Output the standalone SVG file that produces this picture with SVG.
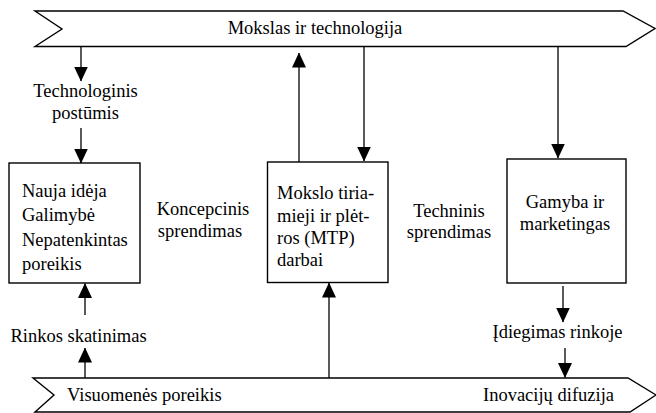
<svg xmlns="http://www.w3.org/2000/svg" width="656" height="413" viewBox="0 0 656 413" font-family="'Liberation Serif', 'DejaVu Serif', serif" font-size="18.5">
<style>
text{font-family:'Liberation Serif','DejaVu Serif',serif;font-size:18.5px;fill:#000}
.c{text-anchor:middle}
.shape{fill:#fff;stroke:#000;stroke-width:1.4}
.ln{fill:none;stroke:#000;stroke-width:1.3}
</style>
<defs>
<marker id="ah" markerUnits="userSpaceOnUse" markerWidth="15" markerHeight="15" viewBox="0 0 15 14" refX="14.5" refY="7" orient="auto">
<path d="M0,0 L15,7 L0,14 Z" fill="#000"/>
</marker>
</defs>
<rect width="656" height="413" fill="#fff"/>
<g id="banner-top">
<path class="shape" d="M35,11 L623,11 L655,28.5 L626,46.5 L35,46.5 L62,29 Z"/>
<text class="c" x="315" y="34">Mokslas ir technologija</text>
</g>
<g id="banner-bottom">
<path class="shape" d="M33,378 L628,378 L656,395 L630,412 L35,412 L54,395 Z"/>
<text x="67" y="401">Visuomenės poreikis</text>
<text x="483" y="401">Inovacijų difuzija</text>
</g>
<g id="box-idea">
<rect class="shape" x="9" y="163" width="131" height="120"/>
<text x="22" y="197">Nauja idėja</text>
<text x="22" y="221">Galimybė</text>
<text x="22" y="245.5">Nepatenkintas</text>
<text x="22" y="270">poreikis</text>
</g>
<g id="box-mtp">
<rect class="shape" x="267.5" y="162" width="120.5" height="120.5"/>
<text x="277" y="199">Mokslo tiria-</text>
<text x="277" y="221.5">mieji ir plėt-</text>
<text x="277" y="244">ros (MTP)</text>
<text x="277" y="266">darbai</text>
</g>
<g id="box-prod">
<rect class="shape" x="507" y="159" width="119" height="124"/>
<text class="c" x="565" y="208">Gamyba ir</text>
<text class="c" x="565" y="230">marketingas</text>
</g>
<g id="labels">
<text class="c" x="85.5" y="97">Technologinis</text>
<text class="c" x="85.5" y="119">postūmis</text>
<text class="c" x="203" y="215">Koncepcinis</text>
<text class="c" x="200" y="237">sprendimas</text>
<text class="c" x="449" y="217">Techninis</text>
<text class="c" x="449" y="238">sprendimas</text>
<text class="c" x="78.5" y="342">Rinkos skatinimas</text>
<text class="c" x="557.5" y="338">Įdiegimas rinkoje</text>
</g>
<g id="connectors">
<line class="ln" x1="81" y1="47" x2="81" y2="81" marker-end="url(#ah)"/>
<line class="ln" x1="81" y1="128" x2="81" y2="163" marker-end="url(#ah)"/>
<line class="ln" x1="299" y1="162" x2="299" y2="53" marker-end="url(#ah)"/>
<line class="ln" x1="364" y1="47" x2="364" y2="161" marker-end="url(#ah)"/>
<line class="ln" x1="558" y1="47" x2="558" y2="158" marker-end="url(#ah)"/>
<line class="ln" x1="329" y1="378" x2="329" y2="283" marker-end="url(#ah)"/>
<line class="ln" x1="85" y1="315" x2="85" y2="283.5" marker-end="url(#ah)"/>
<line class="ln" x1="85" y1="378" x2="85" y2="348" marker-end="url(#ah)"/>
<line class="ln" x1="563" y1="286" x2="563" y2="322" marker-end="url(#ah)"/>
<line class="ln" x1="565" y1="348" x2="565" y2="377.5" marker-end="url(#ah)"/>
</g>
</svg>
